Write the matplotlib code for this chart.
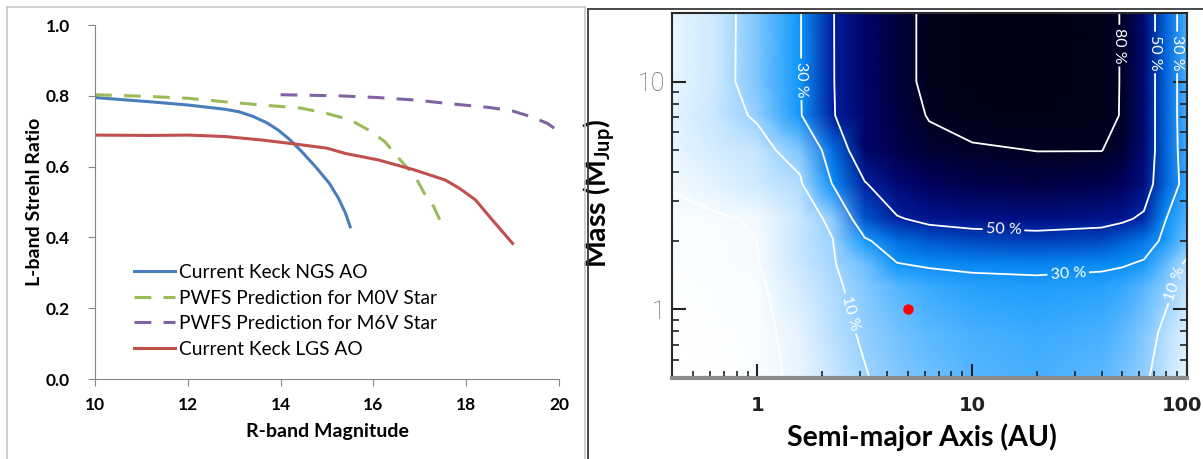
import numpy as np
import matplotlib
matplotlib.use("Agg")
import matplotlib.pyplot as plt
import matplotlib.transforms as mtransforms
from matplotlib.colors import LinearSegmentedColormap
from matplotlib.lines import Line2D

plt.rcParams['font.family'] = ['Lato', 'DejaVu Sans']
plt.rcParams['mathtext.fontset'] = 'custom'
plt.rcParams['mathtext.rm'] = 'Lato'
plt.rcParams['mathtext.bf'] = 'Lato:bold'

# ---- left panel: L-band Strehl vs R-band magnitude ----
ngs_mag = [10.0, 11.2, 12.0, 12.8, 13.1, 13.4, 13.7, 13.95, 14.2, 14.45, 14.75, 15.05, 15.25, 15.4, 15.5]
ngs_strehl = [0.795, 0.783, 0.774, 0.762, 0.755, 0.742, 0.724, 0.703, 0.676, 0.643, 0.600, 0.553, 0.510, 0.468, 0.430]

m0v_mag = [10.0, 11.2, 12.0, 12.8, 13.6, 14.45, 15.0, 15.5, 15.9, 16.25, 16.55, 16.9, 17.1, 17.3, 17.45]
m0v_strehl = [0.803, 0.798, 0.793, 0.783, 0.774, 0.765, 0.750, 0.732, 0.703, 0.670, 0.623, 0.572, 0.524, 0.487, 0.444]

m6v_mag = [14.0, 15.25, 16.1, 16.9, 17.7, 18.5, 19.0, 19.4, 19.75, 20.0]
m6v_strehl = [0.803, 0.800, 0.795, 0.788, 0.777, 0.767, 0.757, 0.741, 0.722, 0.699]

lgs_mag = [10.0, 11.2, 12.0, 12.8, 13.6, 14.3, 15.0, 15.4, 16.1, 16.9, 17.55, 17.85, 18.2, 18.5, 19.0]
lgs_strehl = [0.689, 0.688, 0.689, 0.685, 0.675, 0.664, 0.652, 0.637, 0.619, 0.590, 0.562, 0.539, 0.506, 0.459, 0.383]

series_labels = ['Current Keck NGS AO', 'PWFS Prediction for M0V Star',
                 'PWFS Prediction for M6V Star', 'Current Keck LGS AO']

# ---- right panel: detection probability (%) map ----
semi_major_au = [0.4, 0.63, 1.0, 1.58, 2.24, 3.16, 4.47, 6.3, 10.0, 20.0, 40.0, 50.0, 63.0, 80.0, 100.0]
mass_mjup = [0.5, 0.79, 1.26, 1.58, 2.0, 2.5, 3.55, 5.0, 7.1, 10.0, 20.0]
prob = [
    [0.0, 0.5, 1.5, 4.0, 6.5, 9.5, 13, 16, 19, 21, 18, 15, 11, 7, 4],
    [0.3, 1.0, 1.8, 4.5, 7.5, 11, 15, 18, 21, 23, 21, 18, 13.5, 8, 5],
    [0.8, 1.5, 2.3, 5.5, 8.5, 13, 19, 23, 26, 27, 26, 24, 19, 12, 7],
    [1.2, 2.0, 2.8, 6.5, 9.3, 16, 29.5, 31.5, 32.5, 33, 32, 31, 28.5, 17, 8],
    [1.6, 2.3, 3.0, 7.0, 9.8, 28, 38, 42, 44, 45, 44, 41, 36, 27, 16],
    [2.0, 2.6, 3.3, 6.5, 11.5, 42, 49, 53, 55, 56, 54, 52, 48, 30, 20],
    [3.3, 4.5, 6.0, 8.5, 30.5, 49, 60, 66, 70, 72, 70, 66, 57, 40, 24],
    [4.0, 5.5, 7.0, 14, 38, 62, 70, 75, 78, 80.3, 80.3, 75, 60, 40, 22],
    [4.5, 6.5, 11, 29, 49, 62, 72, 81, 87, 89, 85, 79, 60, 40, 21],
    [4.0, 6.2, 14, 29.4, 49.3, 63, 74, 84, 90, 92, 86, 79, 60, 40, 21],
    [4.0, 6.0, 14, 29.4, 49.4, 63, 74, 84, 91, 93, 86, 79, 60, 40, 21],
]
faint_levels = [3]
label_levels = [10, 30, 50, 80]
jupiter = (5.0, 1.0)

fig = plt.figure(figsize=(12.03, 4.59), dpi=100)

# panel frames
W, H = 1203.0, 459.0
fig.add_artist(Line2D([7 / W, 7 / W], [0, 1 - 7 / H], color='#c8c8c8', lw=1.2))
fig.add_artist(Line2D([7 / W, 585 / W], [1 - 7 / H, 1 - 7 / H], color='#c8c8c8', lw=1.2))
fig.add_artist(Line2D([585 / W, 585 / W], [0, 1 - 7 / H], color='#c8c8c8', lw=1.2))
fig.add_artist(Line2D([588 / W, 588 / W], [0, 1 - 9 / H], color='#3a3a3a', lw=1.3))
fig.add_artist(Line2D([588 / W, 1.0], [1 - 9 / H, 1 - 9 / H], color='#3a3a3a', lw=1.3))

# ---- left axes ----
ax = fig.add_axes([95 / W, 80 / H, 464 / W, 354 / H])
ax.plot(ngs_mag, ngs_strehl, color='#4a7ebb', lw=2.2, label=series_labels[0])
ax.plot(m0v_mag, m0v_strehl, color='#9bbb59', lw=2.2, dashes=(5.5, 4), label=series_labels[1])
ax.plot(m6v_mag, m6v_strehl, color='#8064a2', lw=2.2, dashes=(5.5, 4), label=series_labels[2])
ax.plot(lgs_mag, lgs_strehl, color='#c0504d', lw=2.2, label=series_labels[3])
ax.set_xlim(10, 20)
ax.set_ylim(0, 1.0)
ax.set_xticks([10, 12, 14, 16, 18, 20])
ax.set_yticks([0.0, 0.2, 0.4, 0.6, 0.8, 1.0])
ax.set_yticklabels(['0.0', '0.2', '0.4', '0.6', '0.8', '1.0'])
for s in ['top', 'right']:
    ax.spines[s].set_visible(False)
for s in ['left', 'bottom']:
    ax.spines[s].set_color('#868686')
ax.tick_params(direction='out', length=5, color='#868686', labelsize=12.5)
ax.tick_params(axis='y', pad=13)
ax.tick_params(axis='x', pad=8)
for lab in ax.get_xticklabels() + ax.get_yticklabels():
    lab.set_fontweight('bold')
ax.set_xlabel('R-band Magnitude', fontsize=14, fontweight='bold')
ax.set_ylabel('L-band Strehl Ratio', fontsize=14, fontweight='bold')
ax.xaxis.set_label_coords(0.5, -0.125)
ax.yaxis.set_label_coords(-0.112, 0.5)
ax.legend(loc='lower left', bbox_to_anchor=(0.085, 0.06), frameon=False, fontsize=13.8,
          handlelength=2.1, handletextpad=0.25, labelspacing=0.45, borderpad=0, borderaxespad=0)

# ---- right axes ----
cmap = LinearSegmentedColormap.from_list('det', [
    (0.00, (1.0, 1.0, 1.0)),
    (0.03, (0.96, 0.985, 1.0)),
    (0.10, (0.60, 0.82, 1.0)),
    (0.20, (0.30, 0.70, 1.0)),
    (0.30, (0.04, 0.58, 0.98)),
    (0.40, (0.0, 0.40, 0.86)),
    (0.50, (0.0, 0.10, 0.60)),
    (0.65, (0.0, 0.0, 0.38)),
    (0.80, (0.0, 0.0, 0.13)),
    (1.00, (0.0, 0.0, 0.05)),
])
lx = np.log10(semi_major_au)
ly = np.log10(mass_mjup)
Z = np.array(prob)

ax2 = fig.add_axes([672 / W, 81 / H, 515 / W, 365 / H])
ax2.pcolormesh(lx, ly, Z, shading='gouraud', cmap=cmap, vmin=0, vmax=100)
ax2.contour(lx, ly, Z, levels=faint_levels, colors='white', linewidths=1.3)
cs = ax2.contour(lx, ly, Z, levels=label_levels, colors='white', linewidths=1.3)
label_pos = [(0.21, 1.01), (1.146, 0.361), (1.446, 0.17), (0.446, -0.015),
             (1.91, 0.125), (1.682, 1.158), (1.846, 1.128), (1.946, 1.128)]
ax2.clabel(cs, fmt='%d %%', fontsize=11.5, colors='white',
           manual=label_pos, inline=True, inline_spacing=3)
ax2.plot(np.log10(jupiter[0]), np.log10(jupiter[1]), 'o', color='red', ms=6.5)

ax2.set_xlim(np.log10(0.4), 2.0)
ax2.set_ylim(np.log10(0.5), np.log10(20))
ax2.set_xticks([0, 1, 2])
ax2.set_xticklabels(['1', '10', '100'])
ax2.set_xticks(np.log10([0.4, 0.5, 0.6, 0.7, 0.8, 0.9, 2, 3, 4, 5, 6, 7, 8, 9,
                         20, 30, 40, 50, 60, 70, 80, 90]), minor=True)
ax2.set_yticks([0, 1])
ax2.set_yticklabels(['1', '10'])
ax2.set_yticks(np.log10([0.5, 0.6, 0.7, 0.8, 0.9, 2, 3, 4, 5, 6, 7, 8, 9, 20]), minor=True)
ax2.tick_params(which='both', direction='in', right=True, color='#222222')
ax2.tick_params(which='major', length=10, width=1.5)
ax2.tick_params(which='minor', length=5, width=1.2)
ax2.tick_params(axis='x', which='major', pad=13, labelsize=14, labelcolor='#222222')
ax2.tick_params(axis='y', which='major', pad=5, labelsize=18, labelcolor='#666666')
for lab in ax2.get_xticklabels():
    lab.set_family(['DejaVu Sans'])
    lab.set_fontweight('bold')
# keep the last label ("100") just inside the figure edge
last = ax2.get_xticklabels()[-1]
last.set_transform(last.get_transform() +
                   mtransforms.ScaledTranslation(-5 / 100, 0, fig.dpi_scale_trans))
for lab in ax2.get_yticklabels():
    lab.set_family(['Roboto', 'DejaVu Sans'])
    lab.set_fontweight('light')
for s in ['left', 'right', 'top']:
    ax2.spines[s].set_color('#2a2a2a')
    ax2.spines[s].set_linewidth(1.5)
ax2.spines['bottom'].set_color('#8a8a8a')
ax2.spines['bottom'].set_linewidth(3)
ax2.set_xlabel('Semi-major Axis (AU)', fontsize=20.5, fontweight='bold')
ax2.set_ylabel('Mass (M$_{\\mathbf{Jup}}$)', fontsize=20.5, fontweight='bold')
ax2.xaxis.set_label_coords(0.485, -0.125)
ax2.yaxis.set_label_coords(-0.105, 0.507)

fig.savefig('out.png', dpi=100)
